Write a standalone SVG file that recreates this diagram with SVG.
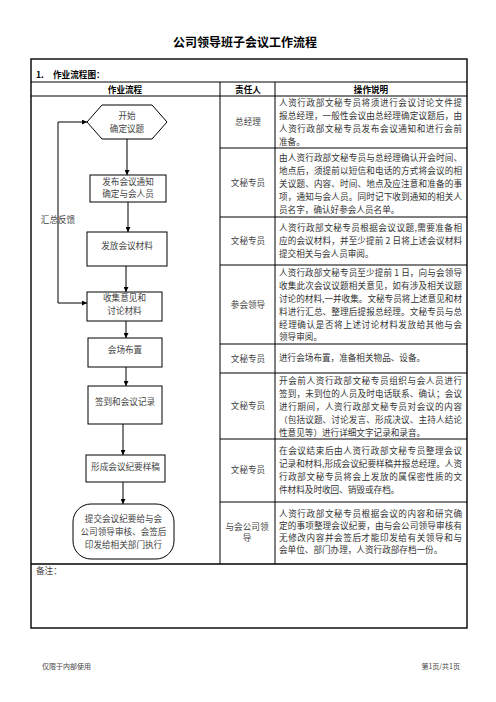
<svg xmlns="http://www.w3.org/2000/svg" width="496" height="702" viewBox="0 0 496 702">
<defs>
<marker id="ah" viewBox="0 0 10 10" refX="10" refY="5" markerWidth="5" markerHeight="5" orient="auto" markerUnits="userSpaceOnUse">
<path d="M0,0 L10,5 L0,10 z" fill="#000"/>
</marker>
</defs>
<style>
text{font-family:"Noto Sans CJK SC","Liberation Serif",serif;}
.t{font-size:8.6px;fill:#333;}
.c{font-size:8.6px;fill:#444;text-anchor:middle;}
.h{font-size:8.6px;font-weight:bold;fill:#000;text-anchor:middle;}
.title{font-size:12px;font-weight:bold;fill:#000;text-anchor:middle;}
.grid{stroke:#000;stroke-width:1;fill:none;}
.outer{stroke:#000;stroke-width:1.4;fill:none;}
.node{stroke:#000;stroke-width:1;fill:#fff;}
.conn{stroke:#000;stroke-width:1;fill:none;}
.foot{font-size:7px;fill:#444;}
</style>
<rect width="496" height="702" fill="#fff"/>
<text class="title" x="245" y="47">公司领导班子会议工作流程</text>

<g id="table">
<rect class="outer" x="31" y="59" width="436" height="569"/>
<line class="grid" x1="31" y1="82" x2="467" y2="82"/>
<line class="grid" x1="31" y1="96" x2="467" y2="96"/>
<line class="grid" x1="220" y1="82" x2="220" y2="564"/>
<line class="grid" x1="275" y1="82" x2="275" y2="564"/>
<line class="grid" x1="220" y1="148" x2="467" y2="148"/>
<line class="grid" x1="220" y1="217" x2="467" y2="217"/>
<line class="grid" x1="220" y1="265" x2="467" y2="265"/>
<line class="grid" x1="220" y1="344" x2="467" y2="344"/>
<line class="grid" x1="220" y1="373" x2="467" y2="373"/>
<line class="grid" x1="220" y1="439" x2="467" y2="439"/>
<line class="grid" x1="220" y1="502" x2="467" y2="502"/>
<line class="outer" x1="31" y1="564" x2="467" y2="564"/>
<text x="36" y="78" style="font-size:8.6px;font-weight:bold;">1.</text>
<text x="53" y="78" style="font-size:8.6px;font-weight:bold;">作业流程图：</text>
<text class="h" x="125" y="93">作业流程</text>
<text class="h" x="248" y="93">责任人</text>
<text class="h" x="371" y="93">操作说明</text>
<text x="36" y="574" style="font-size:8.6px;fill:#444;">备注：</text>
</g>

<g id="responsible">
<text class="c" x="248" y="125">总经理</text>
<text class="c" x="248" y="186">文秘专员</text>
<text class="c" x="248" y="244">文秘专员</text>
<text class="c" x="248" y="308">参会领导</text>
<text class="c" x="248" y="362">文秘专员</text>
<text class="c" x="248" y="409">文秘专员</text>
<text class="c" x="248" y="473">文秘专员</text>
<text class="c" x="247" y="530">与会公司领</text>
<text class="c" x="247" y="541">导</text>
</g>

<g id="descriptions">
<text class="t" x="279" y="106" textLength="183" lengthAdjust="spacing">人资行政部文秘专员将须进行会议讨论文件提</text>
<text class="t" x="279" y="119" textLength="183" lengthAdjust="spacing">报总经理，一般性会议由总经理确定议题后，由</text>
<text class="t" x="279" y="132" textLength="183" lengthAdjust="spacing">人资行政部文秘专员发布会议通知和进行会前</text>
<text class="t" x="279" y="145">准备。</text>

<text class="t" x="279" y="161" textLength="183" lengthAdjust="spacing">由人资行政部文秘专员与总经理确认开会时间、</text>
<text class="t" x="279" y="174" textLength="183" lengthAdjust="spacing">地点后，须提前以短信和电话的方式将会议的相</text>
<text class="t" x="279" y="187" textLength="183" lengthAdjust="spacing">关议题、内容、时间、地点及应注意和准备的事</text>
<text class="t" x="279" y="200" textLength="183" lengthAdjust="spacing">项，通知与会人员。同时记下收到通知的相关人</text>
<text class="t" x="279" y="213">员名字，确认好参会人员名单。</text>

<text class="t" x="279" y="231" textLength="183" lengthAdjust="spacing">人资行政部文秘专员根据会议议题,需要准备相</text>
<text class="t" x="279" y="244" textLength="183" lengthAdjust="spacing">应的会议材料，并至少提前 2 日将上述会议材料</text>
<text class="t" x="279" y="257">提交相关与会人员审阅。</text>

<text class="t" x="279" y="276" textLength="183" lengthAdjust="spacing">人资行政部文秘专员至少提前 1 日，向与会领导</text>
<text class="t" x="279" y="289" textLength="183" lengthAdjust="spacing">收集此次会议议题相关意见，如有涉及相关议题</text>
<text class="t" x="279" y="302" textLength="183" lengthAdjust="spacing">讨论的材料,一并收集。文秘专员将上述意见和材</text>
<text class="t" x="279" y="315" textLength="183" lengthAdjust="spacing">料进行汇总、整理后提报总经理。文秘专员与总</text>
<text class="t" x="279" y="328" textLength="183" lengthAdjust="spacing">经理确认是否将上述讨论材料发放给其他与会</text>
<text class="t" x="279" y="340">领导审阅。</text>

<text class="t" x="279" y="361">进行会场布置，准备相关物品、设备。</text>

<text class="t" x="279" y="384" textLength="183" lengthAdjust="spacing">开会前人资行政部文秘专员组织与会人员进行</text>
<text class="t" x="279" y="397" textLength="183" lengthAdjust="spacing">签到，未到位的人员及时电话联系、确认；会议</text>
<text class="t" x="279" y="410" textLength="183" lengthAdjust="spacing">进行期间，人资行政部文秘专员对会议的内容</text>
<text class="t" x="279" y="423" textLength="183" lengthAdjust="spacing">（包括议题、讨论发言、形成决议、主持人结论</text>
<text class="t" x="279" y="436">性意见等）进行详细文字记录和录音。</text>

<text class="t" x="279" y="454" textLength="183" lengthAdjust="spacing">在会议结束后由人资行政部文秘专员整理会议</text>
<text class="t" x="279" y="467" textLength="183" lengthAdjust="spacing">记录和材料,形成会议纪要样稿并报总经理。人资</text>
<text class="t" x="279" y="480" textLength="183" lengthAdjust="spacing">行政部文秘专员将会上发放的属保密性质的文</text>
<text class="t" x="279" y="493">件材料及时收回、销毁或存档。</text>

<text class="t" x="279" y="517" textLength="183" lengthAdjust="spacing">人资行政部文秘专员根据会议的内容和研究确</text>
<text class="t" x="279" y="529" textLength="183" lengthAdjust="spacing">定的事项整理会议纪要，由与会公司领导审核有</text>
<text class="t" x="279" y="541" textLength="183" lengthAdjust="spacing">无修改内容并会签后才能印发给有关领导和与</text>
<text class="t" x="279" y="553">会单位、部门办理，人资行政部存档一份。</text>
</g>

<g id="connectors">
<line class="conn" x1="127" y1="139" x2="127" y2="175" marker-end="url(#ah)"/>
<line class="conn" x1="128" y1="202" x2="128" y2="232" marker-end="url(#ah)"/>
<line class="conn" x1="126" y1="266" x2="126" y2="292" marker-end="url(#ah)"/>
<line class="conn" x1="126" y1="321" x2="126" y2="338" marker-end="url(#ah)"/>
<line class="conn" x1="126" y1="367" x2="126" y2="386" marker-end="url(#ah)"/>
<line class="conn" x1="123" y1="424" x2="123" y2="455" marker-end="url(#ah)"/>
<line class="conn" x1="123" y1="482" x2="123" y2="504" marker-end="url(#ah)"/>
<polyline class="conn" points="58,303 58,122 87,122" marker-end="url(#ah)"/>
<line class="conn" x1="58" y1="303" x2="87" y2="303" marker-end="url(#ah)"/>
<text class="c" x="58" y="223">汇总反馈</text>
</g>

<g id="n-start">
<polygon class="node" points="87,122 102,105 152,105 167,122 152,139 102,139"/>
<text class="c" x="127" y="119">开始</text>
<text class="c" x="127" y="132">确定议题</text>
</g>
<g id="n-notice">
<rect class="node" x="90" y="175" width="76" height="27"/>
<text class="c" x="128" y="185">发布会议通知</text>
<text class="c" x="128" y="197">确定与会人员</text>
</g>
<g id="n-material">
<rect class="node" x="87" y="232" width="80" height="34"/>
<text class="c" x="127" y="249">发放会议材料</text>
</g>
<g id="n-collect">
<rect class="node" x="87" y="292" width="75" height="29"/>
<text class="c" x="124.5" y="301">收集意见和</text>
<text class="c" x="124.5" y="314">讨论材料</text>
</g>
<g id="n-venue">
<rect class="node" x="88" y="338" width="74" height="29"/>
<text class="c" x="125" y="353">会场布置</text>
</g>
<g id="n-signin">
<rect class="node" x="88" y="386" width="74" height="38"/>
<text class="c" x="125" y="405">签到和会议记录</text>
</g>
<g id="n-draft">
<rect class="node" x="86" y="455" width="79" height="27"/>
<text class="c" x="125.5" y="470">形成会议纪要样稿</text>
</g>
<g id="n-submit">
<rect class="node" x="73" y="504" width="101" height="55" rx="18" ry="18"/>
<text class="c" x="123.5" y="522">提交会议纪要给与会</text>
<text class="c" x="123.5" y="535">公司领导审核、会签后</text>
<text class="c" x="123.5" y="548">印发给相关部门执行</text>
</g>

<text class="foot" x="42" y="669">仅限于内部使用</text>
<text class="foot" x="460" y="669" text-anchor="end">第1页/共1页</text>
</svg>
